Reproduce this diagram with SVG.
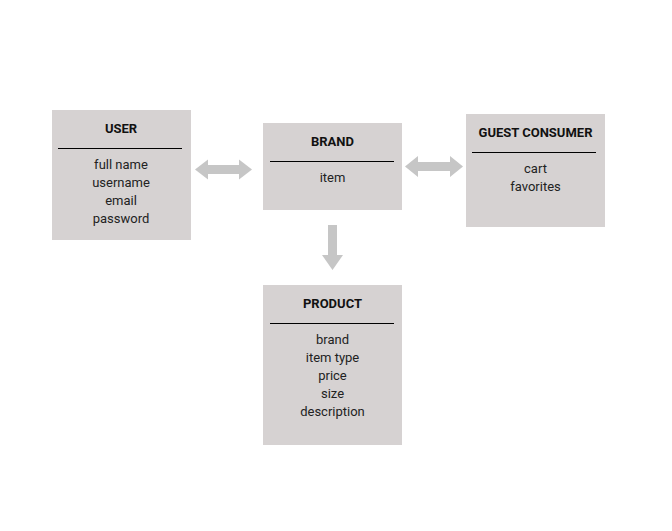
<svg xmlns="http://www.w3.org/2000/svg" width="672" height="531" viewBox="0 0 672 531">
<style>
.box{fill:#d6d2d2}
.sep{stroke:#000;stroke-width:1.2}
.t{font-family:Roboto,"Liberation Sans",sans-serif;font-size:13px;font-weight:bold;fill:#111;text-anchor:middle}
.b{font-family:Roboto,"Liberation Sans",sans-serif;font-size:13px;fill:#222;text-anchor:middle}
.arr{fill:#c6c6c6}
</style>
<rect width="672" height="531" fill="#fff"/>
<g id="user">
<rect class="box" x="52" y="110" width="139" height="130"/>
<text class="t" x="121" y="133">USER</text>
<line class="sep" x1="58" y1="148.5" x2="182" y2="148.5"/>
<text class="b" x="121" y="169">full name</text>
<text class="b" x="121" y="187">username</text>
<text class="b" x="121" y="205">email</text>
<text class="b" x="121" y="223">password</text>
</g>
<g id="brand">
<rect class="box" x="263" y="123" width="139" height="87"/>
<text class="t" x="332.5" y="146">BRAND</text>
<line class="sep" x1="270" y1="161.5" x2="394" y2="161.5"/>
<text class="b" x="332.5" y="182">item</text>
</g>
<g id="guest">
<rect class="box" x="466" y="114" width="139" height="113"/>
<text class="t" x="535.5" y="137">GUEST CONSUMER</text>
<line class="sep" x1="472" y1="152.5" x2="596" y2="152.5"/>
<text class="b" x="535.5" y="173">cart</text>
<text class="b" x="535.5" y="191">favorites</text>
</g>
<g id="product">
<rect class="box" x="263" y="285" width="139" height="160"/>
<text class="t" x="332.5" y="308">PRODUCT</text>
<line class="sep" x1="270" y1="323.5" x2="394" y2="323.5"/>
<text class="b" x="332.5" y="344">brand</text>
<text class="b" x="332.5" y="362">item type</text>
<text class="b" x="332.5" y="380">price</text>
<text class="b" x="332.5" y="398">size</text>
<text class="b" x="332.5" y="416">description</text>
</g>
<g id="connectors">
<polygon class="arr" points="195,169.5 208,159.5 208,165 239,165 239,159.5 252,169.5 239,179.5 239,174 208,174 208,179.5"/>
<polygon class="arr" points="405,166.5 418,156 418,162 450,162 450,156 463,166.5 450,177 450,171 418,171 418,177"/>
<polygon class="arr" points="328,225 337,225 337,255 343,255 332.5,270 322,255 328,255"/>
</g>
</svg>
